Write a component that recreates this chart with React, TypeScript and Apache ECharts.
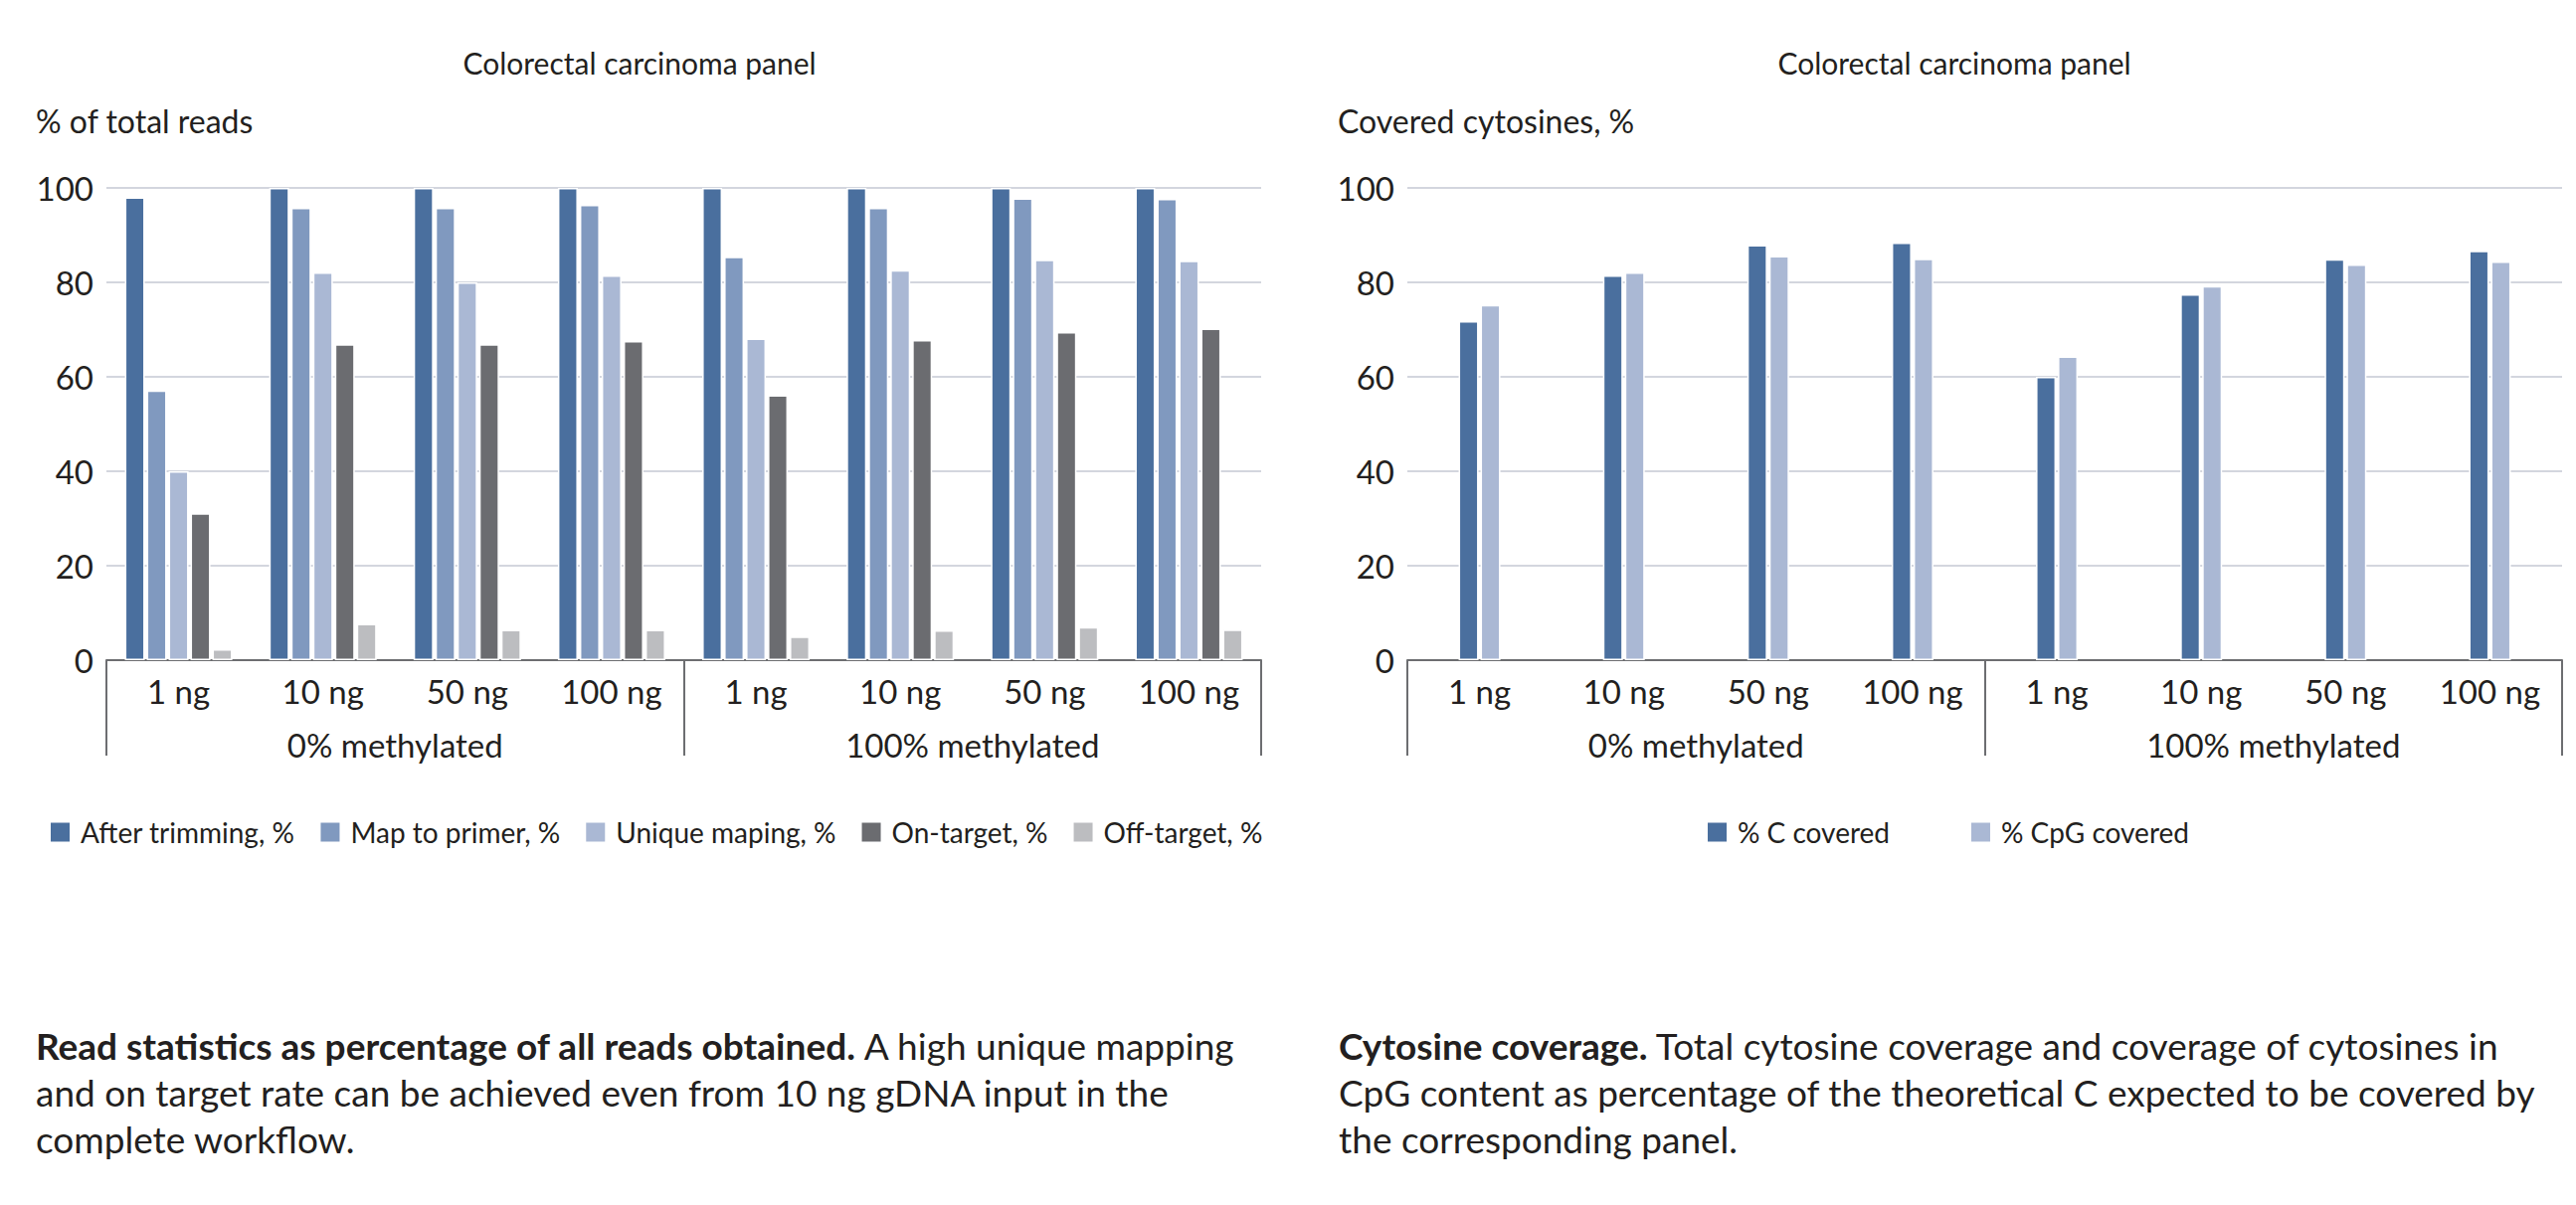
import React, { useEffect, useRef } from "react";
import * as echarts from "echarts";

const doseLabels = ["1 ng", "10 ng", "50 ng", "100 ng", "1 ng", "10 ng", "50 ng", "100 ng"];
const groupLabels = ["0% methylated", "100% methylated"];

const readSeriesNames = ["After trimming, %", "Map to primer, %", "Unique maping, %", "On-target, %", "Off-target, %"];
const afterTrimming = [98, 100, 100, 100, 100, 100, 100, 100];
const mapToPrimer = [57.1, 95.8, 95.8, 96.4, 85.4, 95.8, 97.8, 97.7];
const uniqueMapping = [40.0, 82.1, 80.0, 81.5, 68.1, 82.6, 84.8, 84.6];
const onTarget = [31.1, 66.9, 66.9, 67.6, 56.1, 67.8, 69.5, 70.2];
const offTarget = [2.3, 7.7, 6.4, 6.4, 5.0, 6.3, 7.0, 6.5];

const coverageNames = ["% C covered", "% CpG covered"];
const cCovered = [71.8, 81.5, 87.9, 88.4, 60.0, 77.5, 84.9, 86.7];
const cpgCovered = [75.2, 82.1, 85.6, 85.0, 64.3, 79.2, 83.8, 84.4];

const panelTitle = "Colorectal carcinoma panel";
const leftAxisName = "% of total reads";
const rightAxisName = "Covered cytosines, %";

const leftCaptionBold = "Read statistics as percentage of all reads obtained.";
const leftCaptionLines = [
  " A high unique mapping",
  "and on target rate can be achieved even from 10 ng gDNA input in the",
  "complete workflow.",
];
const rightCaptionBold = "Cytosine coverage.";
const rightCaptionLines = [
  " Total cytosine coverage and coverage of cytosines in",
  "CpG content as percentage of the theoretical C expected to be covered by",
  "the corresponding panel.",
];

const FONT = "Lato";
const TEXT = "#231f20";
const AXIS = "#6d6e71";
const GRID = "#d3d6de";

const readColors = ["#4a6f9e", "#8099bf", "#aab8d4", "#6b6c70", "#bcbdc0"];
const coverageColors = ["#4a6f9e", "#aab8d4"];

export default function App() {
  const ref = useRef<HTMLDivElement>(null);
  useEffect(() => {
    document.body.style.margin = "0";
    const chart = echarts.init(ref.current!, null, { renderer: "svg" });
    const grids = [
      { left: 107, top: 189, width: 1161, height: 475 },
      { left: 1415, top: 189, width: 1161, height: 475 },
    ];
    const xAxes: any[] = [];
    const yAxes: any[] = [];
    [0, 1].forEach((g) => {
      xAxes.push({
        type: "category",
        gridIndex: g,
        position: "bottom",
        data: doseLabels,
        axisLine: { show: true, lineStyle: { color: AXIS, width: 2 } },
        axisTick: { show: false },
        axisLabel: { fontSize: 33, color: TEXT, fontFamily: FONT, margin: 14, interval: 0 },
      });
      xAxes.push({
        type: "category",
        gridIndex: g,
        position: "bottom",
        data: groupLabels,
        axisLine: { show: false },
        axisTick: { show: true, length: 96, lineStyle: { color: AXIS, width: 2 } },
        axisLabel: { fontSize: 33, color: TEXT, fontFamily: FONT, margin: 68, interval: 0 },
      });
      yAxes.push({
        type: "value",
        gridIndex: g,
        min: 0,
        max: 100,
        interval: 20,
        axisLine: { show: false },
        axisTick: { show: false },
        axisLabel: { fontSize: 33, color: TEXT, fontFamily: FONT, margin: 13 },
        splitLine: { lineStyle: { color: GRID, width: 2 } },
      });
    });

    const readData = [afterTrimming, mapToPrimer, uniqueMapping, onTarget, offTarget];
    const series: any[] = readData.map((d, i) => ({
      type: "bar",
      name: readSeriesNames[i],
      xAxisIndex: 0,
      yAxisIndex: 0,
      data: d,
      barWidth: 20,
      barGap: "10%",
      itemStyle: { color: readColors[i], borderColor: "#ffffff", borderWidth: 1.5 },
    }));
    [cCovered, cpgCovered].forEach((d, i) => {
      series.push({
        type: "bar",
        name: coverageNames[i],
        xAxisIndex: 2,
        yAxisIndex: 1,
        data: d,
        barWidth: 20,
        barGap: "10%",
        itemStyle: { color: coverageColors[i], borderColor: "#ffffff", borderWidth: 1.5 },
      });
    });

    const legendText = { fontSize: 28, color: TEXT, fontFamily: FONT, padding: [0, 0, 0, 5] };

    const mkText = (x: number, y: number, text: string, size: number, align = "left") => ({
      type: "text",
      x,
      y,
      style: {
        text,
        fill: TEXT,
        fontSize: size,
        fontFamily: FONT,
        align,
        verticalAlign: "middle",
      },
    });

    const captionLines = (x: number, bold: string, lines: string[]) =>
      lines.map((line, i) => ({
        type: "text",
        x,
        y: 1051 + i * 47,
        style: {
          text: i === 0 ? `{b|${bold}}${line}` : line,
          fill: TEXT,
          fontSize: 37,
          fontFamily: FONT,
          verticalAlign: "middle",
          rich: {
            b: { fontSize: 37, fontFamily: FONT, fontWeight: "bold", fill: TEXT },
          },
        },
      }));

    chart.setOption({
      animation: false,
      backgroundColor: "#ffffff",
      grid: grids,
      xAxis: xAxes,
      yAxis: yAxes,
      legend: [
        {
          data: readSeriesNames,
          left: 44,
          top: 818,
          itemWidth: 21,
          itemHeight: 21,
          itemGap: 24,
          icon: "rect",
          textStyle: legendText,
          selectedMode: false,
        },
        {
          data: coverageNames,
          left: 1710,
          top: 818,
          itemWidth: 21,
          itemHeight: 21,
          itemGap: 80,
          icon: "rect",
          textStyle: legendText,
          selectedMode: false,
        },
      ],
      series,
      graphic: [
        mkText(643, 63, panelTitle, 30, "center"),
        mkText(1965, 63, panelTitle, 30, "center"),
        mkText(36, 121, leftAxisName, 32),
        mkText(1345, 121, rightAxisName, 32),
        ...captionLines(36, leftCaptionBold, leftCaptionLines),
        ...captionLines(1346, rightCaptionBold, rightCaptionLines),
      ],
    });
    return () => chart.dispose();
  }, []);
  return <div ref={ref} style={{ width: 2590, height: 1212 }} />;
}
